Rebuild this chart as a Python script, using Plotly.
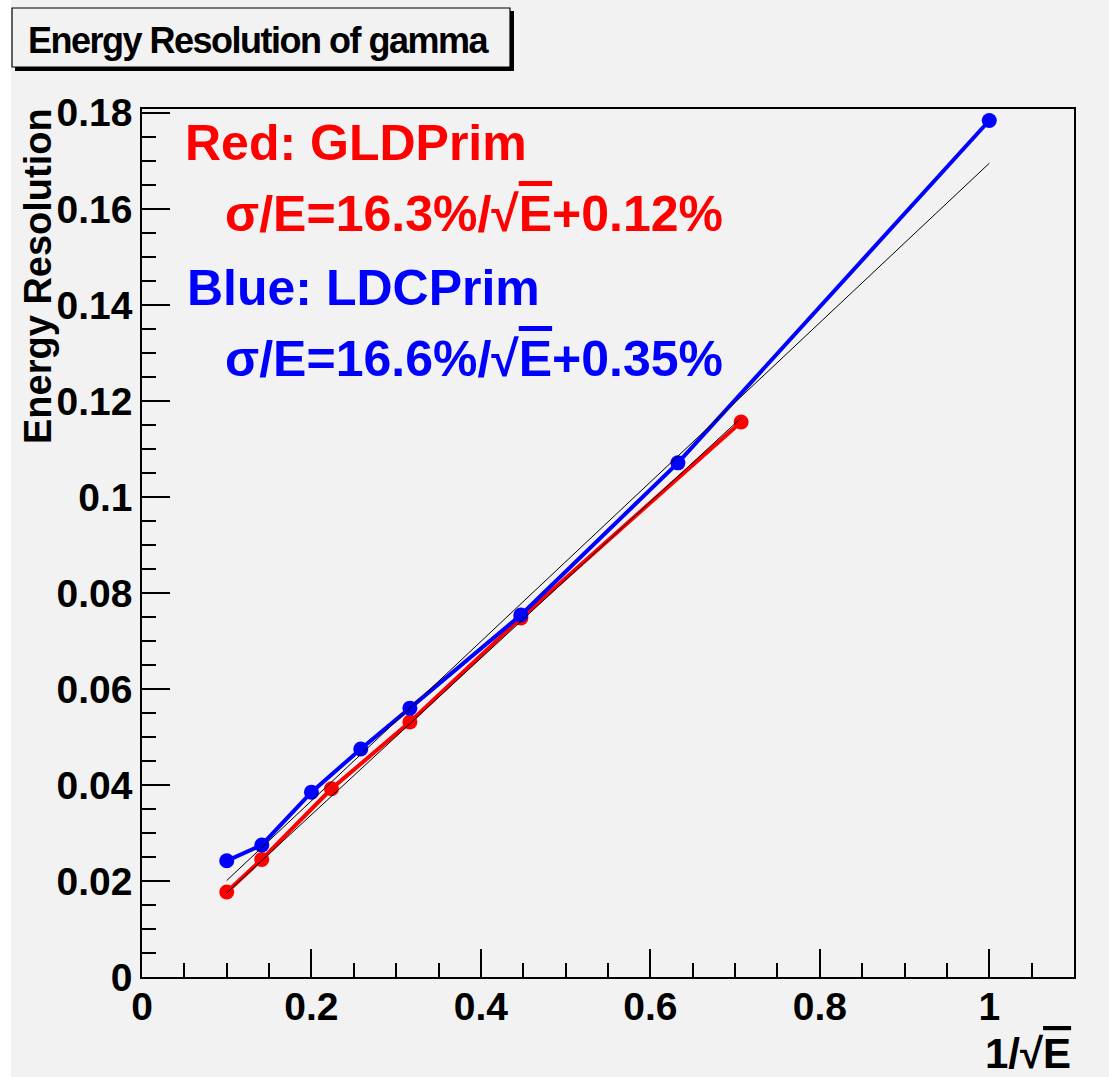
import numpy as np
import plotly.graph_objects as go

# GLDPrim (red) measurements: 1/sqrt(E) vs energy resolution
gld_x = [0.1, 0.1414, 0.2236, 0.3162, 0.4472, 0.7071]
gld_y = [0.0177, 0.0245, 0.0392, 0.0531, 0.0748, 0.1156]

# LDCPrim (blue) measurements
ldc_x = [0.1, 0.1414, 0.2, 0.2582, 0.3162, 0.4472, 0.6325, 1.0]
ldc_y = [0.0242, 0.0275, 0.0385, 0.0475, 0.0560, 0.0754, 0.1071, 0.1784]

# fit parameters: sigma/E = a/sqrt(E) + b
gld_fit = (0.163, 0.0012)
ldc_fit = (0.166, 0.0035)

x_ticks = [0, 0.2, 0.4, 0.6, 0.8, 1]
y_ticks = [0, 0.02, 0.04, 0.06, 0.08, 0.1, 0.12, 0.14, 0.16, 0.18]

W_PX, H_PX = 1109, 1077
L, R, T, B = 142, 1074, 109, 977


def px(x):
    return (x - L) / (R - L)


def py(y):
    return (B - y) / (B - T)


BG = "#f2f2f2"
fig = go.Figure()

for xs, ys, col in [(gld_x, gld_y, "#ff0000"), (ldc_x, ldc_y, "#0000ff")]:
    fig.add_trace(go.Scatter(
        x=xs, y=ys, mode="lines+markers",
        line=dict(color=col, width=4),
        marker=dict(color=col, size=15, symbol="circle"),
        showlegend=False, hoverinfo="skip"))

for (a, b), xs in [(gld_fit, gld_x), (ldc_fit, ldc_x)]:
    fx = np.linspace(min(xs), max(xs), 60)
    fy = a * fx + b
    fig.add_trace(go.Scatter(x=fx, y=fy, mode="lines",
                             line=dict(color="black", width=1),
                             showlegend=False, hoverinfo="skip"))

axis_font = dict(family="Liberation Sans, Arial", size=39, color="black", weight="bold")
common = dict(showgrid=False, zeroline=False, showline=True, mirror=True,
              linecolor="black", linewidth=1.5, ticks="inside", ticklen=28,
              tickwidth=1.5, tickcolor="black", tickfont=axis_font)

fig.update_xaxes(range=[0, 1.1], tickmode="array", tickvals=x_ticks,
                 minor=dict(dtick=0.05, ticks="inside", ticklen=14,
                            tickwidth=1.5, tickcolor="black"),
                 ticklabelstandoff=-6, **common)
fig.update_yaxes(range=[0, 0.1808], tickmode="array", tickvals=y_ticks,
                 minor=dict(dtick=0.005, ticks="inside", ticklen=14,
                            tickwidth=1.5, tickcolor="black"),
                 ticklabelstandoff=0, **common)

shapes = [
    dict(type="rect", xref="paper", yref="paper", x0=px(0), x1=px(11), y0=py(0), y1=py(W_PX),
         fillcolor="white", line=dict(width=0), layer="below"),
    # title box with drop shadow
    dict(type="rect", xref="paper", yref="paper", x0=px(15), x1=px(514), y0=py(11), y1=py(71),
         fillcolor="black", line=dict(width=0)),
    dict(type="rect", xref="paper", yref="paper", x0=px(12), x1=px(510), y0=py(8), y1=py(67),
         fillcolor=BG, line=dict(color="black", width=1.2)),
]

big = dict(family="Liberation Sans, Arial", size=50, weight="bold")
ov = '<span style="text-decoration:overline">E</span>'
title_txt = '<span style="letter-spacing:-1.5px">Energy Resolution of gamma</span>'
annotations = [
    dict(text=title_txt, x=px(259), y=py(40), xref="paper", yref="paper",
         showarrow=False, xanchor="center", yanchor="middle",
         font=dict(family="Liberation Sans, Arial", size=36, weight="bold", color="black")),
    dict(text="Red: GLDPrim", x=px(183), y=py(143), xref="paper", yref="paper",
         showarrow=False, xanchor="left", yanchor="middle", font=dict(color="#ff0000", **big)),
    dict(text="σ/E=16.3%/√" + ov + "+0.12%", x=px(223), y=py(214), xref="paper", yref="paper",
         showarrow=False, xanchor="left", yanchor="middle", font=dict(color="#ff0000", **big)),
    dict(text="Blue: LDCPrim", x=px(185), y=py(288), xref="paper", yref="paper",
         showarrow=False, xanchor="left", yanchor="middle", font=dict(color="#0000ff", **big)),
    dict(text="σ/E=16.6%/√" + ov + "+0.35%", x=px(223), y=py(359), xref="paper", yref="paper",
         showarrow=False, xanchor="left", yanchor="middle", font=dict(color="#0000ff", **big)),
    dict(text="Energy Resolution", x=px(38), y=py(106), xref="paper", yref="paper",
         showarrow=False, xanchor="center", yanchor="top", textangle=-90,
         font=dict(family="Liberation Sans, Arial", size=38, weight="bold", color="black")),
    dict(text="1/√" + ov, x=px(1073), y=py(1053), xref="paper", yref="paper",
         showarrow=False, xanchor="right", yanchor="middle",
         font=dict(family="Liberation Sans, Arial", size=42, weight="bold", color="black")),
]

fig.update_layout(
    width=W_PX, height=H_PX,
    margin=dict(l=L, r=W_PX - R, t=T, b=H_PX - B),
    paper_bgcolor=BG, plot_bgcolor=BG,
    shapes=shapes, annotations=annotations,
)

fig.write_html("out.html")
